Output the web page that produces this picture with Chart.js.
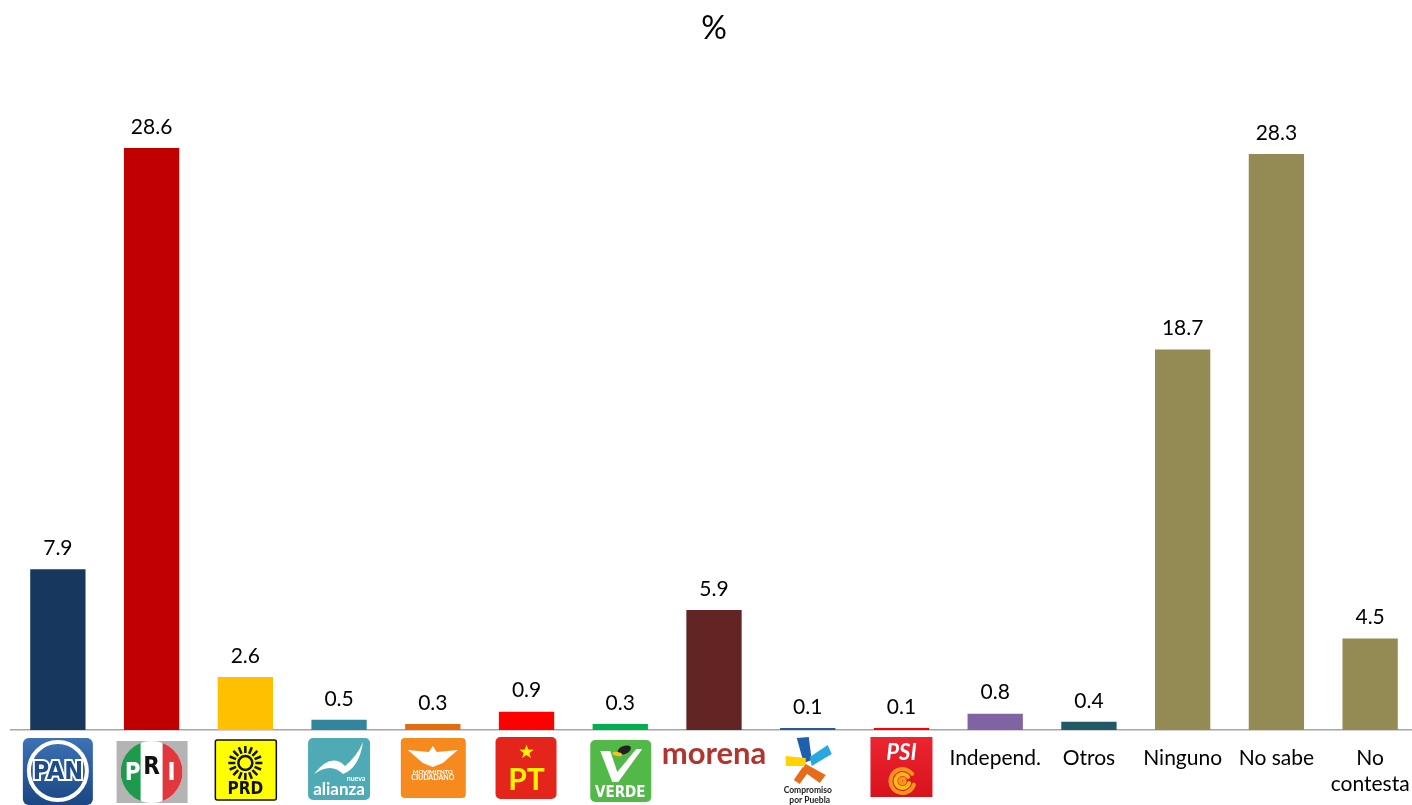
<!DOCTYPE html>
<html>
<head>
<meta charset="utf-8">
<script src="https://cdn.jsdelivr.net/npm/chart.js@4.4.0/dist/chart.umd.min.js"></script>
<style>
  html, body { margin: 0; padding: 0; background: #fff; overflow: hidden; }
  canvas { display: block; }
</style>
</head>
<body>
<canvas id="barChart" width="1418" height="805"></canvas>
<script>
let categories = ["PAN", "PRI", "PRD", "Nueva Alianza", "Movimiento Ciudadano", "PT", "Verde", "Morena",
  "Compromiso por Puebla", "PSI", "Independ.", "Otros", "Ninguno", "No sabe", "No contesta"];
let values = [7.9, 28.6, 2.6, 0.5, 0.3, 0.9, 0.3, 5.9, 0.1, 0.1, 0.8, 0.4, 18.7, 28.3, 4.5];
let barColors = ["#17375E", "#C00000", "#FFC000", "#31859C", "#E46C0A", "#FF0000", "#00B050", "#632523",
  "#2C5A8F", "#FF0000", "#8064A2", "#215967", "#948A54", "#948A54", "#948A54"];
let logoCount = 10; // first ten categories are shown as party logos

const FONT = "Lato, 'Open Sans', sans-serif";
const NARROW = "'Liberation Sans Narrow', 'DejaVu Sans Condensed', sans-serif";

function box(ctx, x, y, w, h, r, fill) {
  ctx.beginPath();
  ctx.roundRect(x, y, w, h, r);
  ctx.fillStyle = fill;
  ctx.fill();
}

function text(ctx, str, x, y, font, color) {
  ctx.font = font;
  ctx.fillStyle = color;
  ctx.textAlign = "center";
  ctx.textBaseline = "middle";
  ctx.fillText(str, x, y);
}

// simplified party logos, keyed by category
let logos = {
  "PAN": function (ctx, cx) {
    let g = ctx.createLinearGradient(0, 738, 0, 805);
    g.addColorStop(0, "#3D72B4");
    g.addColorStop(1, "#1A4683");
    box(ctx, cx - 35, 738, 70, 67, 6, g);
    ctx.beginPath();
    ctx.arc(cx, 771, 29, 0, Math.PI * 2);
    ctx.strokeStyle = "#fff";
    ctx.lineWidth = 4;
    ctx.stroke();
    ctx.font = "bold 25px " + NARROW;
    ctx.textAlign = "center";
    ctx.textBaseline = "middle";
    ctx.lineWidth = 4;
    ctx.strokeStyle = "#fff";
    ctx.strokeText("PAN", cx, 772);
    ctx.fillStyle = "#1F4E8C";
    ctx.fillText("PAN", cx, 772);
  },
  "PRI": function (ctx, cx) {
    box(ctx, cx - 35, 741, 71, 62, 0, "#B4B4B4");
    ctx.save();
    ctx.beginPath();
    ctx.arc(cx, 772, 31, 0, Math.PI * 2);
    ctx.clip();
    ctx.fillStyle = "#fff";
    ctx.fillRect(cx - 31, 741, 62, 62);
    ctx.fillStyle = "#1E9A4C";
    ctx.fillRect(cx - 31, 741, 20, 62);
    ctx.fillStyle = "#E0383C";
    ctx.fillRect(cx + 11, 741, 20, 62);
    ctx.restore();
    text(ctx, "P", cx - 19, 774, "bold 24px " + NARROW, "#fff");
    text(ctx, "R", cx, 768, "bold 24px " + NARROW, "#111");
    text(ctx, "I", cx + 20, 774, "bold 24px " + NARROW, "#fff");
  },
  "PRD": function (ctx, cx) {
    box(ctx, cx - 30, 740, 61, 60, 2, "#FFFF00");
    ctx.strokeStyle = "#111";
    ctx.lineWidth = 1.5;
    ctx.stroke();
    ctx.beginPath();
    ctx.arc(cx, 763, 7, 0, Math.PI * 2);
    ctx.lineWidth = 2.5;
    ctx.stroke();
    for (let k = 0; k < 16; k++) {
      let a = k * Math.PI / 8;
      ctx.beginPath();
      ctx.moveTo(cx + Math.cos(a) * 10, 763 + Math.sin(a) * 10);
      ctx.lineTo(cx + Math.cos(a) * 17, 763 + Math.sin(a) * 17);
      ctx.stroke();
    }
    text(ctx, "PRD", cx, 790, "bold 17px " + NARROW, "#111");
  },
  "Nueva Alianza": function (ctx, cx) {
    box(ctx, cx - 31, 738, 62, 62, 5, "#4EAAB5");
    ctx.beginPath();
    ctx.moveTo(cx - 25, 774);
    ctx.quadraticCurveTo(cx - 8, 752, cx + 6, 766);
    ctx.quadraticCurveTo(cx + 18, 756, cx + 24, 742);
    ctx.quadraticCurveTo(cx + 20, 768, cx + 4, 774);
    ctx.quadraticCurveTo(cx - 8, 762, cx - 25, 774);
    ctx.fillStyle = "#fff";
    ctx.fill();
    text(ctx, "nueva", cx + 17, 779, "bold 7px " + FONT, "#fff");
    text(ctx, "alianza", cx, 790, "bold 17px " + FONT, "#fff");
  },
  "Movimiento Ciudadano": function (ctx, cx) {
    box(ctx, cx - 32, 738, 65, 60, 4, "#F68A1F");
    ctx.beginPath();
    ctx.moveTo(cx - 25, 750);
    ctx.lineTo(cx - 4, 752);
    ctx.lineTo(cx, 746);
    ctx.lineTo(cx + 4, 752);
    ctx.lineTo(cx + 25, 750);
    ctx.lineTo(cx + 10, 763);
    ctx.lineTo(cx, 767);
    ctx.lineTo(cx - 10, 763);
    ctx.closePath();
    ctx.fillStyle = "#fff";
    ctx.fill();
    text(ctx, "MOVIMIENTO", cx, 772, "bold 6px " + FONT, "#fff");
    text(ctx, "CIUDADANO", cx, 778, "bold 7px " + FONT, "#fff");
  },
  "PT": function (ctx, cx) {
    box(ctx, cx - 31, 737, 61, 62, 5, "#E3251C");
    ctx.beginPath();
    for (let k = 0; k < 10; k++) {
      let r = k % 2 ? 3 : 7.5;
      let a = -Math.PI / 2 + k * Math.PI / 5;
      ctx.lineTo(cx + Math.cos(a) * r, 752 + Math.sin(a) * r);
    }
    ctx.closePath();
    ctx.fillStyle = "#FFF200";
    ctx.fill();
    text(ctx, "PT", cx, 780, "bold 30px " + FONT, "#FFF200");
  },
  "Verde": function (ctx, cx) {
    box(ctx, cx - 30, 740, 61, 62, 5, "#52B848");
    ctx.beginPath();
    ctx.moveTo(cx - 20, 751);
    ctx.lineTo(cx - 10, 751);
    ctx.lineTo(cx - 3, 772);
    ctx.lineTo(cx + 16, 749);
    ctx.lineTo(cx + 22, 749);
    ctx.lineTo(cx - 2, 782);
    ctx.lineTo(cx - 8, 782);
    ctx.closePath();
    ctx.fillStyle = "#fff";
    ctx.fill();
    ctx.beginPath();
    ctx.ellipse(cx + 4, 750, 7, 4, -0.4, 0, Math.PI * 2);
    ctx.fillStyle = "#222";
    ctx.fill();
    ctx.beginPath();
    ctx.ellipse(cx - 3, 754, 5, 2, 0.2, 0, Math.PI * 2);
    ctx.fillStyle = "#F7C21B";
    ctx.fill();
    text(ctx, "VERDE", cx, 793, "bold 15px " + NARROW, "#fff");
  },
  "Morena": function (ctx, cx) {
    ctx.font = "bold 31px " + FONT;
    ctx.fillStyle = "#B0352F";
    ctx.textAlign = "center";
    ctx.textBaseline = "middle";
    ctx.fillText("morena", cx, 754, 106);
  },
  "Compromiso por Puebla": function (ctx, cx) {
    let cy = 762;
    let quad = function (pts, color) {
      ctx.beginPath();
      pts.forEach(p => ctx.lineTo(cx + p[0], cy + p[1]));
      ctx.closePath();
      ctx.fillStyle = color;
      ctx.fill();
    };
    quad([[-11, -24], [1, -25], [4, -2], [-4, 1]], "#1F5FB0");
    quad([[2, -5], [20, -17], [24, -8], [4, 4]], "#29A8E0");
    quad([[-22, -6], [-2, -4], [-2, 4], [-22, 4]], "#FFD200");
    quad([[-2, 2], [18, 13], [12, 21], [-6, 8]], "#E46C1A");
    quad([[-5, 5], [2, 8], [-8, 22], [-14, 18]], "#E46C1A");
    text(ctx, "Compromiso", cx, 790, "bold 8.5px " + FONT, "#222");
    text(ctx, "por Puebla", cx + 2, 800, "bold 8.5px " + FONT, "#222");
  },
  "PSI": function (ctx, cx) {
    let g = ctx.createLinearGradient(0, 737, 0, 797);
    g.addColorStop(0, "#EC2530");
    g.addColorStop(1, "#D8121C");
    box(ctx, cx - 31, 737, 62, 60, 0, g);
    text(ctx, "PSI", cx, 753, "italic bold 22px " + FONT, "#fff");
    ctx.lineCap = "round";
    [[12, "#F7941D"], [7, "#FDB913"], [2.5, "#F7941D"]].forEach(s => {
      ctx.beginPath();
      ctx.arc(cx + 1, 781, s[0], 0.3, Math.PI * 1.8);
      ctx.strokeStyle = s[1];
      ctx.lineWidth = 4;
      ctx.stroke();
    });
    ctx.lineCap = "butt";
  }
};

const logoPlugin = {
  id: "logos",
  afterDraw(chart) {
    let ctx = chart.ctx;
    let x = chart.scales.x;
    ctx.save();
    for (let i = 0; i < logoCount; i++) {
      logos[categories[i]](ctx, x.getPixelForValue(i));
    }
    ctx.restore();
  }
};

const valueLabels = {
  id: "valueLabels",
  afterDatasetsDraw(chart) {
    let ctx = chart.ctx;
    ctx.save();
    ctx.font = "21px " + FONT;
    ctx.fillStyle = "#000";
    ctx.textAlign = "center";
    ctx.textBaseline = "middle";
    chart.getDatasetMeta(0).data.forEach((bar, i) => {
      ctx.fillText(values[i].toFixed(1), bar.x, bar.y - 21);
    });
    ctx.restore();
  }
};

let ctx = document.getElementById("barChart").getContext("2d");
new Chart(ctx, {
  type: "bar",
  data: {
    labels: categories,
    datasets: [{
      label: "%",
      data: values,
      backgroundColor: barColors,
      barPercentage: 0.59,
      categoryPercentage: 1
    }]
  },
  options: {
    responsive: false,
    animation: false,
    layout: { padding: { left: 11, right: 1, top: 0, bottom: 0 } },
    scales: {
      x: {
        grid: { display: false, drawTicks: false },
        border: { display: true, color: "#A6A6A6", width: 1.5 },
        afterFit: function (scale) {
          scale.height = 75;
          // labels fit inside their category, no extra side padding
          scale.paddingLeft = 0;
          scale.paddingRight = 0;
        },
        ticks: {
          padding: 16,
          color: "#000",
          font: { family: FONT, size: 21 },
          maxRotation: 0,
          autoSkip: false,
          callback: function (value, index) {
            if (index < logoCount) return "";
            let name = categories[index];
            return name === "No contesta" ? ["No", "contesta"] : name;
          }
        }
      },
      y: {
        display: false,
        min: 0,
        max: 30
      }
    },
    plugins: {
      legend: { display: false },
      tooltip: { enabled: false },
      title: {
        display: true,
        text: "%",
        color: "#000",
        font: { family: FONT, size: 32, weight: "normal" },
        padding: { top: 9, bottom: 72 }
      }
    }
  },
  plugins: [valueLabels, logoPlugin]
});
</script>
</body>
</html>
